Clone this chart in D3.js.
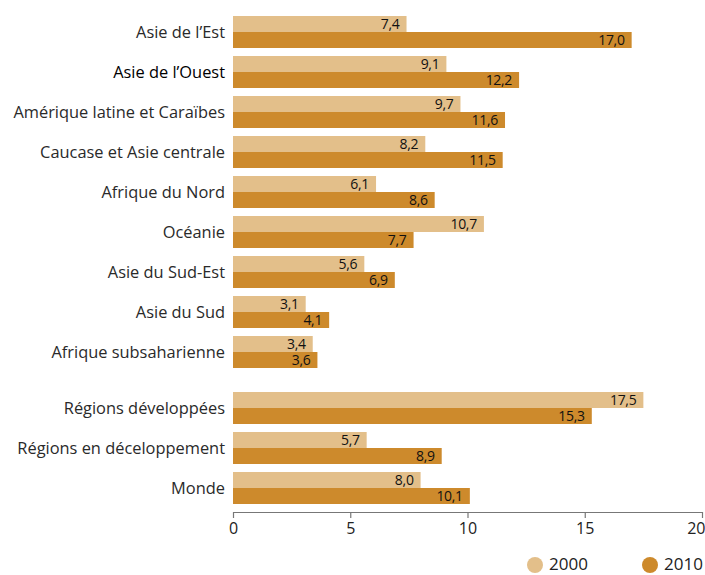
<!DOCTYPE html>
<html><head><meta charset="utf-8">
<script src="https://cdn.jsdelivr.net/npm/d3@7"></script>
<style>body{margin:0;background:#fff}svg{display:block}text{font-family:"Open Sans","Noto Sans",sans-serif}</style>
</head><body>
<svg id="c" width="705" height="575"></svg>
<script>
const categories = ["Asie de l\u2019Est","Asie de l\u2019Ouest","Amérique latine et Caraïbes","Caucase et Asie centrale","Afrique du Nord","Océanie","Asie du Sud-Est","Asie du Sud","Afrique subsaharienne","Régions développées","Régions en déceloppement","Monde"];
const values2000 = [7.4,9.1,9.7,8.2,6.1,10.7,5.6,3.1,3.4,17.5,5.7,8.0];
const values2010 = [17.0,12.2,11.6,11.5,8.6,7.7,6.9,4.1,3.6,15.3,8.9,10.1];
const seriesNames = ["2000","2010"];
const xTicks = [0,5,10,15,20];
const colors = ["#E3BF8A","#CD8A2C"];

const svg = d3.select("#c");
const x = d3.scaleLinear().domain([0,20]).range([233,702]);
// row tops: regular step with an extra gap before the aggregates
const rowTop = i => 16 + 40*i + (i>=9 ? 16 : 0);
const barH = 16;
const fmt = v => d3.format(".1f")(v).replace(".", ",");

const g = svg.append("g");
categories.forEach((c,i)=>{
  const top = rowTop(i);
  [values2000[i], values2010[i]].forEach((v,s)=>{
    g.append("rect").attr("x",x(0)).attr("y",top+s*barH).attr("width",x(v)-x(0)).attr("height",barH).attr("fill",colors[s]);
    g.append("text").attr("x",x(v)-7).attr("y",top+s*barH+barH/2).attr("dy","0.35em")
      .attr("text-anchor","end").attr("font-size",14).attr("letter-spacing","-0.3").attr("fill","#111").text(fmt(v));
  });
  g.append("text").attr("x",225).attr("y",top+barH).attr("dy","0.35em").attr("text-anchor","end")
    .attr("font-size",16.4).attr("fill", i===1 ? "#000" : "#2a2a2a").attr("font-weight", i===1 ? 500 : 400).text(c);
});

const axis = d3.axisBottom(x).tickValues(xTicks).tickSize(6).tickSizeOuter(0).tickFormat(d=>d);
const ax = svg.append("g").attr("transform","translate(0,512)").call(axis);
ax.select(".domain").attr("stroke","#777").attr("stroke-width",1.2);
ax.selectAll(".tick line").attr("stroke","#777").attr("stroke-width",1.2);
ax.selectAll(".tick text").attr("font-size",16).attr("fill","#222").attr("font-family","'Open Sans',sans-serif").attr("dy","0.8em")
  .attr("text-anchor", d => d===20 ? "end" : "middle").attr("dx", d => d===20 ? 3 : 0);

const legX = [535,650];
seriesNames.forEach((n,s)=>{
  svg.append("circle").attr("cx",legX[s]).attr("cy",565).attr("r",8).attr("fill",colors[s]);
  svg.append("text").attr("x",legX[s]+14).attr("y",564).attr("dy","0.35em").attr("font-size",17).attr("fill","#222").text(n);
});
</script>
</body></html>
